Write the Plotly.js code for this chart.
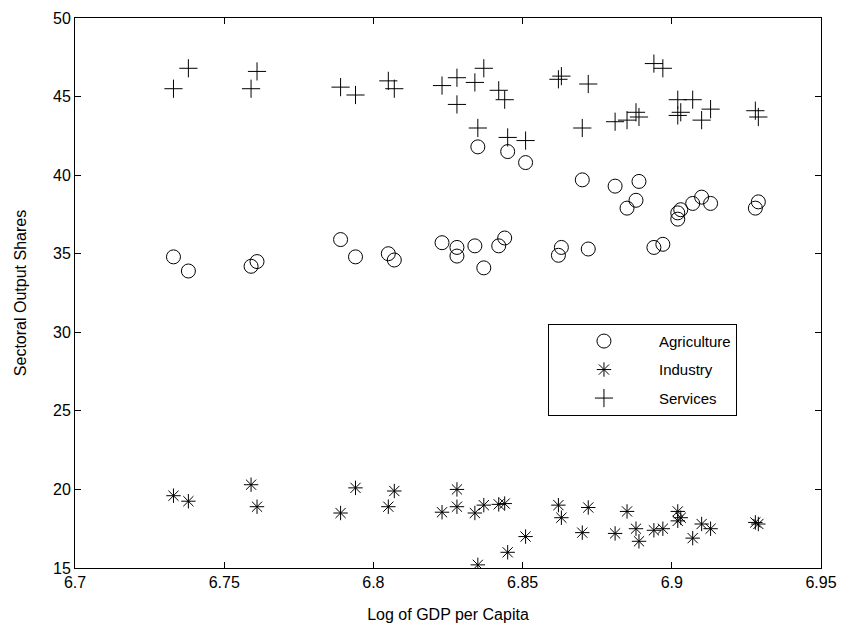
<!DOCTYPE html>
<html>
<head>
<meta charset="utf-8">
<script src="https://cdn.plot.ly/plotly-3.0.1.min.js"></script>
<style>html,body{margin:0;padding:0;background:#fff}#chart{width:843px;height:627px}</style>
</head>
<body>
<div id="chart"></div>
<script>
const logGdp = [6.733, 6.738, 6.759, 6.761, 6.789, 6.794, 6.805, 6.807, 6.823, 6.828, 6.828, 6.834,
  6.835, 6.837, 6.842, 6.844, 6.845, 6.851, 6.862, 6.863, 6.870, 6.872, 6.881, 6.885,
  6.888, 6.889, 6.894, 6.897, 6.902, 6.902, 6.903, 6.907, 6.910, 6.913, 6.928, 6.929];
const agriculture = [34.8, 33.9, 34.2, 34.5, 35.9, 34.8, 35.0, 34.6, 35.7, 35.4, 34.85, 35.5,
  41.8, 34.1, 35.5, 36.0, 41.5, 40.8, 34.9, 35.4, 39.7, 35.3, 39.3, 37.9,
  38.4, 39.6, 35.4, 35.6, 37.6, 37.2, 37.8, 38.2, 38.6, 38.2, 37.9, 38.3];
const industry = [19.6, 19.25, 20.3, 18.9, 18.5, 20.1, 18.9, 19.9, 18.55, 20.0, 18.9, 18.5,
  15.2, 19.0, 19.05, 19.1, 16.0, 17.0, 19.0, 18.2, 17.25, 18.85, 17.2, 18.6,
  17.5, 16.7, 17.4, 17.5, 18.6, 18.0, 18.2, 16.9, 17.8, 17.5, 17.9, 17.8];
const services = [45.5, 46.8, 45.5, 46.6, 45.6, 45.1, 46.0, 45.5, 45.7, 46.2, 44.5, 45.9,
  43.0, 46.8, 45.4, 44.8, 42.4, 42.2, 46.1, 46.3, 43.0, 45.8, 43.4, 43.5,
  44.0, 43.7, 47.1, 46.8, 43.8, 44.8, 44.0, 44.8, 43.5, 44.2, 44.1, 43.7];

function series(name, y, symbol, size) {
  return {
    type: 'scatter', mode: 'markers', name, x: logGdp, y, legendgroup: name,
    marker: { symbol, size, color: '#000', line: { color: '#000', width: 1 } },
  };
}

const axisBase = {
  showgrid: false, zeroline: false, showline: true, mirror: 'ticks',
  linecolor: '#000', linewidth: 1, ticks: 'inside', ticklen: 6, tickcolor: '#000',
  tickfont: { size: 16, color: '#000' },
};

Plotly.newPlot('chart', [
  series('Agriculture', agriculture, 'circle-open', 14),
  series('Industry', industry, 'asterisk-open', 12),
  series('Services', services, 'cross-thin-open', 13),
], {
  width: 843, height: 627,
  font: { family: 'Liberation Sans, Arial, sans-serif', color: '#000' },
  margin: { l: 75, r: 22, t: 18, b: 59 },
  paper_bgcolor: '#fff', plot_bgcolor: '#fff',
  xaxis: { ...axisBase, range: [6.7, 6.95], dtick: 0.05,
    title: { text: 'Log of GDP per Capita', font: { size: 16 }, standoff: 18 } },
  yaxis: { ...axisBase, range: [15, 50], dtick: 5,
    title: { text: 'Sectoral Output Shares', font: { size: 16 }, standoff: 22 } },
  legend: {
    x: 0.634, y: 0.444, xanchor: 'left', yanchor: 'top',
    bordercolor: '#000', borderwidth: 1, bgcolor: '#fff',
    font: { size: 15 }, itemwidth: 100, traceorder: 'grouped', tracegroupgap: 6,
    entrywidth: 195,
  },
}, { displayModeBar: false, staticPlot: true });
</script>
</body>
</html>
